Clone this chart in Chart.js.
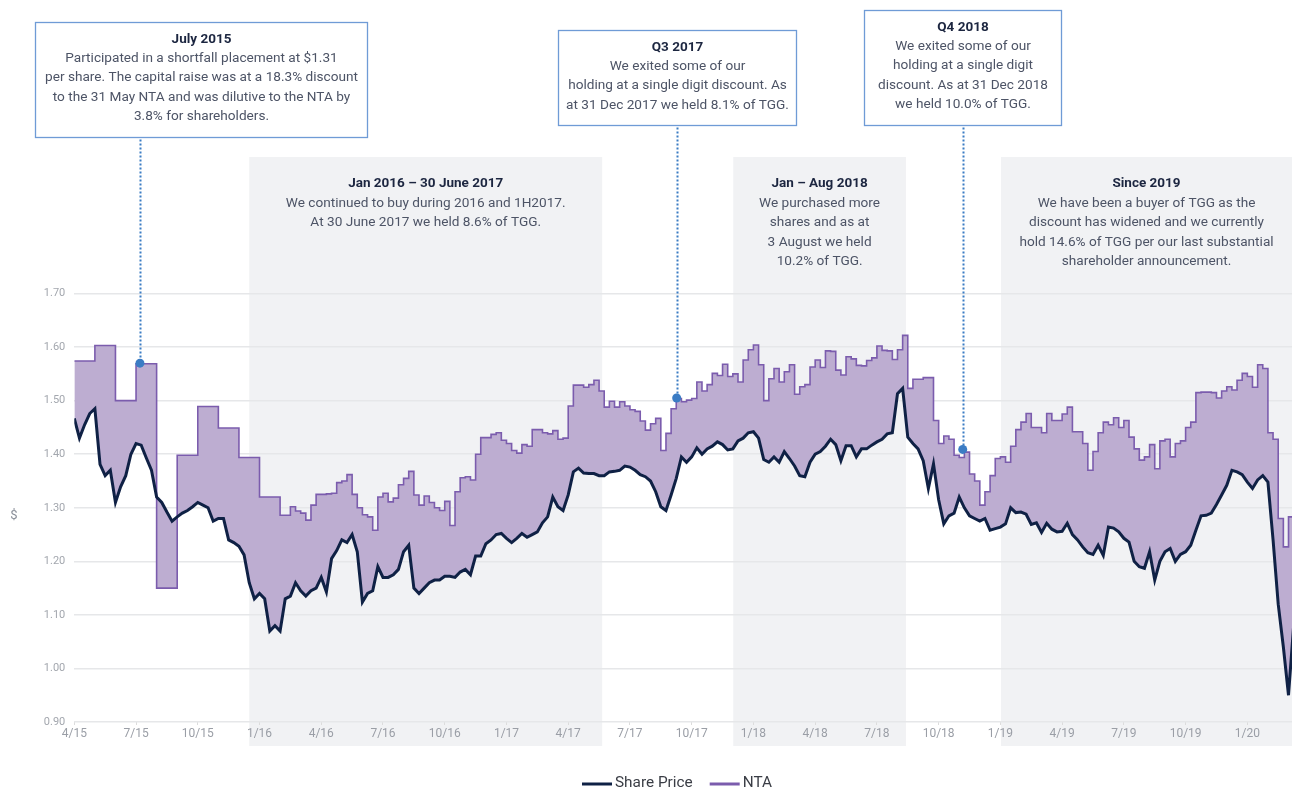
<!DOCTYPE html>
<html>
<head>
<meta charset="utf-8">
<script src="https://cdn.jsdelivr.net/npm/chart.js@4.4.0/dist/chart.umd.min.js"></script>
<style>
html,body{margin:0;padding:0;background:#fff;}
#wrap{width:1292px;height:789px;position:relative;}
</style>
</head>
<body>
<div id="wrap"><canvas id="c" width="1292" height="789"></canvas></div>
<script>
// ---- data ----
const tickLabels = ['4/15','7/15','10/15','1/16','4/16','7/16','10/16','1/17','4/17','7/17','10/17','1/18','4/18','7/18','10/18','1/19','4/19','7/19','10/19','1/20'];
const yTickValues = [0.90,1.00,1.10,1.20,1.30,1.40,1.50,1.60,1.70];
const STEP = 0.25; // months between samples, starting April 2015

const sharePrice = [
1.467,1.43,1.455,1.476,1.485,1.381,1.36,1.37,1.31,1.339,
1.36,1.40,1.42,1.417,1.393,1.37,1.32,1.31,1.292,1.275,
1.283,1.29,1.295,1.302,1.31,1.305,1.30,1.275,1.28,1.28,
1.24,1.235,1.228,1.212,1.16,1.13,1.14,1.13,1.07,1.08,
1.07,1.13,1.135,1.16,1.145,1.135,1.145,1.15,1.17,1.143,
1.205,1.22,1.24,1.235,1.25,1.218,1.124,1.14,1.145,1.19,
1.17,1.17,1.175,1.185,1.218,1.23,1.15,1.14,1.15,1.16,
1.165,1.165,1.172,1.172,1.17,1.18,1.185,1.175,1.21,1.21,
1.233,1.24,1.25,1.252,1.243,1.235,1.243,1.252,1.245,1.25,
1.255,1.272,1.283,1.32,1.302,1.295,1.324,1.367,1.374,1.365,
1.364,1.364,1.36,1.36,1.367,1.368,1.37,1.378,1.376,1.37,
1.362,1.358,1.35,1.33,1.302,1.295,1.324,1.355,1.395,1.385,
1.395,1.412,1.40,1.41,1.415,1.423,1.418,1.408,1.41,1.425,
1.43,1.44,1.442,1.43,1.39,1.385,1.395,1.385,1.405,1.392,
1.378,1.36,1.358,1.385,1.40,1.405,1.415,1.428,1.418,1.388,
1.416,1.416,1.395,1.41,1.41,1.417,1.423,1.428,1.438,1.44,
1.513,1.523,1.432,1.42,1.41,1.388,1.336,1.382,1.315,1.27,
1.285,1.29,1.32,1.30,1.285,1.28,1.275,1.28,1.258,1.261,
1.264,1.27,1.30,1.291,1.292,1.288,1.269,1.272,1.254,1.271,
1.26,1.255,1.256,1.271,1.25,1.24,1.227,1.216,1.213,1.23,
1.211,1.264,1.262,1.255,1.243,1.236,1.20,1.19,1.187,1.218,
1.165,1.20,1.218,1.224,1.20,1.213,1.218,1.23,1.258,1.285,
1.286,1.29,1.306,1.324,1.342,1.37,1.367,1.362,1.348,1.336,
1.352,1.36,1.348,1.24,1.12,1.04,0.95,1.08
];

const nta = [
1.574,1.574,1.574,1.574,1.603,1.603,1.603,1.603,1.50,1.50,
1.50,1.50,1.569,1.569,1.569,1.569,1.150,1.150,1.150,1.150,
1.398,1.398,1.398,1.398,1.489,1.489,1.489,1.489,1.449,1.449,
1.449,1.449,1.394,1.394,1.394,1.394,1.320,1.320,1.320,1.320,
1.286,1.286,1.302,1.294,1.290,1.277,1.305,1.325,1.325,1.326,
1.327,1.347,1.35,1.362,1.325,1.30,1.287,1.283,1.258,1.32,
1.327,1.311,1.318,1.343,1.355,1.368,1.324,1.305,1.322,1.31,
1.30,1.295,1.312,1.267,1.33,1.356,1.358,1.352,1.40,1.431,
1.431,1.437,1.44,1.426,1.42,1.407,1.402,1.418,1.415,1.446,
1.446,1.44,1.438,1.444,1.428,1.43,1.49,1.529,1.529,1.525,
1.53,1.538,1.518,1.488,1.499,1.488,1.498,1.49,1.483,1.48,
1.462,1.445,1.457,1.467,1.407,1.439,1.485,1.504,1.498,1.501,
1.504,1.535,1.518,1.53,1.551,1.547,1.568,1.545,1.55,1.535,
1.576,1.595,1.604,1.567,1.50,1.541,1.56,1.535,1.554,1.567,
1.512,1.526,1.53,1.563,1.576,1.562,1.593,1.592,1.557,1.548,
1.582,1.578,1.566,1.565,1.575,1.58,1.602,1.594,1.593,1.577,
1.595,1.622,1.523,1.54,1.54,1.543,1.543,1.463,1.42,1.434,
1.428,1.398,1.394,1.404,1.363,1.35,1.305,1.33,1.36,1.392,
1.395,1.385,1.415,1.446,1.46,1.476,1.45,1.45,1.44,1.476,
1.463,1.463,1.475,1.488,1.442,1.442,1.42,1.37,1.405,1.44,
1.46,1.455,1.468,1.45,1.463,1.432,1.41,1.389,1.395,1.418,
1.373,1.425,1.428,1.395,1.42,1.425,1.45,1.46,1.515,1.516,
1.516,1.515,1.505,1.518,1.526,1.52,1.538,1.551,1.545,1.525,
1.567,1.56,1.44,1.428,1.28,1.227,1.283,1.283
];

// shaded periods (months since April 2015)
const shadeFrom = [8.5, 32.02, 45.03];
const shadeTo = [25.65, 40.41, 60];
const shadeTitles = ['Jan 2016 \u2013 30 June 2017', 'Jan \u2013 Aug 2018', 'Since 2019'];
const shadeTexts = [
  ['We continued to buy during 2016 and 1H2017.', 'At 30 June 2017 we held 8.6% of TGG.'],
  ['We purchased more', 'shares and as at', '3 August we held', '10.2% of TGG.'],
  ['We have been a buyer of TGG as the', 'discount has widened and we currently', 'hold 14.6% of TGG per our last substantial', 'shareholder announcement.']
];

// callouts: marker position (month, value)
const calloutMonths = [3.19, 29.27, 43.17];
const calloutValues = [1.570, 1.505, 1.409];
const calloutTitles = ['July 2015', 'Q3 2017', 'Q4 2018'];
const calloutTexts = [
  ['Participated in a shortfall placement at $1.31', 'per share. The capital raise was at a 18.3% discount', 'to the 31 May NTA and was dilutive to the NTA by', '3.8% for shareholders.'],
  ['We exited some of our', 'holding at a single digit discount. As', 'at 31 Dec 2017 we held 8.1% of TGG.'],
  ['We exited some of our', 'holding at a single digit', 'discount. As at 31 Dec 2018', 'we held 10.0% of TGG.']
];
// callout box layout (pixels)
const calloutBoxes = [
  {x: 35.5, y: 22.5, w: 332, h: 115},
  {x: 558.5, y: 30.5, w: 238, h: 95},
  {x: 864.5, y: 10.5, w: 197, h: 115}
];

// ---- styling ----
const FAMILY = 'Roboto, "Liberation Sans", sans-serif';
const C_SHARE = '#0f2145';
const C_NTA = '#7b5cad';
const C_FILL = '#bdadd1';
const C_SHADE = '#f1f2f4';
const C_BLUE = '#3b7cc4';
const C_TITLE = '#1c2640';
const C_BODY = '#4d5466';

const mctx = document.createElement('canvas').getContext('2d');
function fitSize(text, target, weight) {
  mctx.font = weight + ' 20px ' + FAMILY;
  return 20 * target / mctx.measureText(text).width;
}
const BODY_SIZE = fitSize('At 30 June 2017 we held 8.6% of TGG.', 231, 'normal');
const TITLE_SIZE = fitSize('Jan 2016 \u2013 30 June 2017', 155, 'bold');
const LEGEND_SIZE = fitSize('Share Price', 77.7, 'normal');

function drawBlock(ctx, cx, y, title, lines, lh) {
  ctx.textAlign = 'center';
  ctx.textBaseline = 'middle';
  ctx.font = 'bold ' + TITLE_SIZE.toFixed(2) + 'px ' + FAMILY;
  ctx.fillStyle = C_TITLE;
  ctx.fillText(title, cx, y);
  ctx.font = 'normal ' + BODY_SIZE.toFixed(2) + 'px ' + FAMILY;
  ctx.fillStyle = C_BODY;
  lines.forEach((l, k) => ctx.fillText(l, cx, y + lh * (k + 1)));
}

const overlay = {
  id: 'overlay',
  beforeDraw(chart) {
    const {ctx, chartArea: ca, scales: {x}} = chart;
    ctx.save();
    ctx.fillStyle = '#ffffff';
    ctx.fillRect(0, 0, chart.width, chart.height);
    ctx.fillStyle = C_SHADE;
    shadeFrom.forEach((f, k) => {
      const x0 = x.getPixelForValue(f);
      const x1 = Math.min(x.getPixelForValue(shadeTo[k]), ca.right);
      ctx.fillRect(x0, ca.top, x1 - x0, ca.bottom - ca.top + 24);
    });
    ctx.restore();
  },
  afterDatasetsDraw(chart) {
    const {ctx, chartArea: ca, scales: {x, y}} = chart;
    ctx.save();
    // shaded period captions
    shadeFrom.forEach((f, k) => {
      const x0 = x.getPixelForValue(f);
      const x1 = Math.min(x.getPixelForValue(shadeTo[k]), ca.right);
      drawBlock(ctx, (x0 + x1) / 2, ca.top + 26.5, shadeTitles[k], shadeTexts[k], 19.6);
    });
    // callouts
    calloutMonths.forEach((m, k) => {
      const px = x.getPixelForValue(m);
      const py = y.getPixelForValue(calloutValues[k]);
      const b = calloutBoxes[k];
      // dotted leader
      ctx.strokeStyle = C_BLUE;
      ctx.lineWidth = 2;
      ctx.setLineDash([2, 2]);
      ctx.beginPath();
      ctx.moveTo(Math.round(px) + 0.5, b.y + b.h + 2);
      ctx.lineTo(Math.round(px) + 0.5, py);
      ctx.stroke();
      ctx.setLineDash([]);
      // box
      ctx.fillStyle = '#ffffff';
      ctx.fillRect(b.x, b.y, b.w, b.h);
      ctx.strokeStyle = '#6f9bd6';
      ctx.lineWidth = 1.3;
      ctx.strokeRect(b.x, b.y, b.w, b.h);
      drawBlock(ctx, b.x + b.w / 2, b.y + 17, calloutTitles[k], calloutTexts[k], 19.2);
      // marker
      ctx.fillStyle = C_BLUE;
      ctx.beginPath();
      ctx.arc(px, py, 4.5, 0, Math.PI * 2);
      ctx.fill();
    });
    // y axis unit
    ctx.fillStyle = '#8a8f99';
    ctx.font = 'normal 13px ' + FAMILY;
    ctx.textAlign = 'center';
    ctx.textBaseline = 'middle';
    ctx.fillText('$', 14, (y.getPixelForValue(0.9) + y.getPixelForValue(1.7)) / 2 + 8);
    // legend
    const items = [{label: 'Share Price', color: C_SHARE}, {label: 'NTA', color: C_NTA}];
    ctx.font = 'normal ' + LEGEND_SIZE.toFixed(2) + 'px ' + FAMILY;
    const lineW = 30, gapIn = 3, gapOut = 17;
    let total = 0;
    items.forEach((it, k) => { it.w = ctx.measureText(it.label).width; total += lineW + gapIn + it.w + (k ? 0 : gapOut); });
    let cx = 677 - total / 2;
    const ly = 783;
    items.forEach(it => {
      ctx.strokeStyle = it.color;
      ctx.lineWidth = 3;
      ctx.beginPath();
      ctx.moveTo(cx, ly + 1);
      ctx.lineTo(cx + lineW, ly + 1);
      ctx.stroke();
      ctx.fillStyle = '#3a3d45';
      ctx.textAlign = 'left';
      ctx.fillText(it.label, cx + lineW + gapIn, ly);
      cx += lineW + gapIn + it.w + gapOut;
    });
    ctx.restore();
  }
};

new Chart(document.getElementById('c'), {
  type: 'line',
  data: {
    datasets: [
      {
        label: 'Share Price',
        data: sharePrice.map((v, i) => ({x: i * STEP, y: v})),
        borderColor: C_SHARE,
        borderWidth: 3,
        pointRadius: 0,
        tension: 0,
        fill: false,
        order: 0
      },
      {
        label: 'NTA',
        data: nta.map((v, i) => ({x: i * STEP, y: v})),
        borderColor: C_NTA,
        borderWidth: 1.6,
        pointRadius: 0,
        stepped: 'before',
        fill: '-1',
        backgroundColor: C_FILL,
        order: 1
      }
    ]
  },
  options: {
    responsive: false,
    animation: false,
    events: [],
    layout: {padding: {top: 157, left: 0, right: 0, bottom: 0}},
    plugins: {legend: {display: false}, tooltip: {enabled: false}},
    scales: {
      x: {
        type: 'linear',
        min: 0,
        max: 59.17,
        afterBuildTicks: ax => { ax.ticks = tickLabels.map((l, k) => ({value: k * 3})); },
        afterFit: ax => { ax.height = 67; },
        ticks: {
          callback: v => tickLabels[Math.round(v / 3)],
          color: '#9a9ea6',
          font: {family: FAMILY, size: 12},
          maxRotation: 0,
          autoSkip: false,
          padding: 2
        },
        grid: {drawOnChartArea: false, drawTicks: true, tickLength: 3, color: '#dcdcdc'},
        border: {display: false}
      },
      y: {
        min: 0.9,
        max: 1.955,
        afterBuildTicks: ax => { ax.ticks = yTickValues.map(v => ({value: v})); },
        afterFit: ax => { ax.width = 74.3; },
        ticks: {
          callback: v => Number(v).toFixed(2),
          color: '#a3a7ae',
          font: {family: FAMILY, size: 11},
          padding: 9
        },
        grid: {color: '#e6e7e9', lineWidth: 1.5, drawTicks: false},
        border: {display: false}
      }
    }
  },
  plugins: [overlay]
});
</script>
</body>
</html>
